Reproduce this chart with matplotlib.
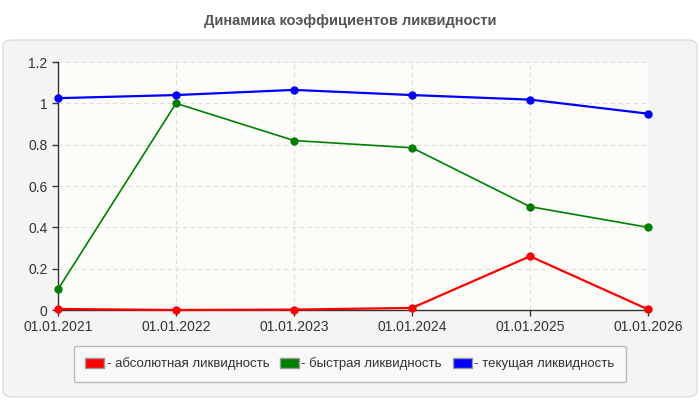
import matplotlib
matplotlib.use('Agg')
import matplotlib.pyplot as plt
from matplotlib.patches import FancyBboxPatch, Rectangle, Patch

# data
dates = ['01.01.2021', '01.01.2022', '01.01.2023', '01.01.2024', '01.01.2025', '01.01.2026']
absolute = [0.005, 0.0, 0.002, 0.01, 0.26, 0.003]
quick = [0.1, 1.0, 0.82, 0.785, 0.5, 0.4]
current = [1.025, 1.04, 1.065, 1.04, 1.018, 0.95]
yticks = [0, 0.2, 0.4, 0.6, 0.8, 1, 1.2]
ytick_labels = ['0', '0.2', '0.4', '0.6', '0.8', '1', '1.2']

plt.rcParams['font.family'] = ['Liberation Sans', 'DejaVu Sans']
plt.rcParams['hatch.color'] = '#eaeaea'
plt.rcParams['hatch.linewidth'] = 0.6

fig = plt.figure(figsize=(7, 4), dpi=100)
fig.patch.set_facecolor('white')

# outer rounded panel
panel = FancyBboxPatch((3/700, 3/400), 694/700, 357/400,
                       boxstyle='round,pad=0,rounding_size=0.015',
                       transform=fig.transFigure, facecolor='#f4f4f4',
                       edgecolor='#dddddd', linewidth=1, zorder=-10)
fig.patches.append(panel)

fig.text(0.5, 0.948, 'Динамика коэффициентов ликвидности', ha='center', va='center',
         fontsize=10.5, fontweight='bold', color='#555555')

ax = fig.add_axes([58/700, 90/400, 590/700, 248/400])
ax.set_zorder(1)
ax.set_facecolor('#fcfcf8')
ax.add_patch(Rectangle((0, 0), 1, 1, transform=ax.transAxes, facecolor='none',
                       edgecolor='none', hatch='//////', zorder=0))

x = list(range(len(dates)))
ax.plot(x, absolute, color='#ff0000', lw=1.6, marker='o', ms=5, zorder=3, clip_on=False)
ax.plot(x, quick, color='#008000', lw=1.2, marker='o', ms=5, zorder=3, clip_on=False)
ax.plot(x, current, color='#0000ff', lw=1.6, marker='o', ms=5, zorder=3, clip_on=False)

ax.set_xlim(0, 5)
ax.set_ylim(0, 1.2)
ax.set_xticks(x)
ax.set_xticklabels(dates)
ax.set_yticks(yticks)
ax.set_yticklabels(ytick_labels)
ax.tick_params(axis='both', labelsize=10, colors='#333333', length=4, width=1)
ax.tick_params(axis='x', pad=3)
ax.grid(True, color='#dddddd', linestyle='--', linewidth=0.8, dashes=(4, 3))
ax.set_axisbelow(True)
for side in ['top', 'right']:
    ax.spines[side].set_visible(False)
for side in ['left', 'bottom']:
    ax.spines[side].set_color('#333333')
    ax.spines[side].set_linewidth(1)

handles = [Patch(facecolor='#ff0000', edgecolor='#999999', label='- абсолютная ликвидность'),
           Patch(facecolor='#008000', edgecolor='#999999', label='- быстрая ликвидность'),
           Patch(facecolor='#0000ff', edgecolor='#999999', label='- текущая ликвидность')]
leg = fig.legend(handles=handles, loc='center', ncol=3, mode='expand',
                 bbox_to_anchor=(67/700, 17/400, 566/700, 38/400),
                 fontsize=9.5, frameon=True, fancybox=True, handlelength=1.4,
                 handleheight=0.8, handletextpad=0.2, borderpad=0.9, columnspacing=1.5)
leg.get_frame().set_facecolor('#fafafa')
leg.get_frame().set_edgecolor('#aaaaaa')
for t in leg.get_texts():
    t.set_color('#333333')

fig.savefig('out.png', dpi=100)
